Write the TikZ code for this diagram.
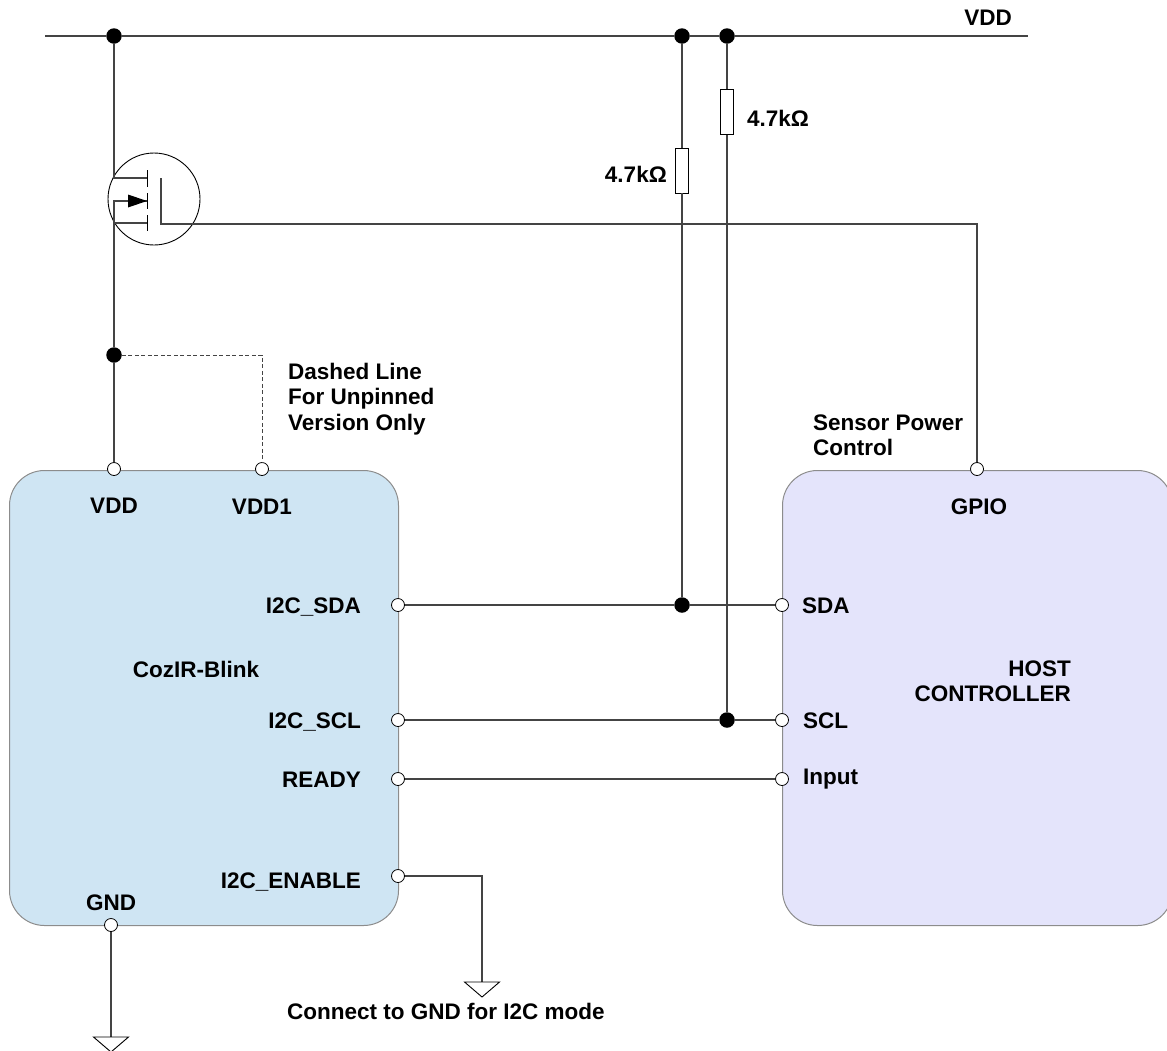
\documentclass[tikz,border=0pt]{standalone}
\usepackage{fontspec}
\setmainfont{Liberation Sans}
\definecolor{blinkblue}{HTML}{CFE5F3}
\definecolor{hostblue}{HTML}{E4E4FB}
\definecolor{boxedge}{HTML}{8C8C8C}
\definecolor{wire}{HTML}{444444}
\tikzset{
  chip/.style={draw=boxedge,line width=1pt,rounded corners=35pt,inner sep=0pt,anchor=north west},
  pinO/.style={circle,draw=black,fill=white,line width=0.8pt,inner sep=0pt,minimum size=13pt},
  jdot/.style={circle,fill=black,draw=none,inner sep=0pt,minimum size=15.5pt},
  resbox/.style={rectangle,draw=black,fill=white,line width=0.9pt,inner sep=0pt,minimum width=13pt,minimum height=45pt},
  lbl/.style={inner sep=0pt,font=\fontsize{22.5pt}{25.3pt}\selectfont\bfseries,align=left},
  wireline/.style={draw=wire,line width=1.2pt},
  thin part/.style={draw=black,line width=0.9pt},
}
\begin{document}
\begin{tikzpicture}[x=1pt,y=-1pt]
\useasboundingbox (0,0) rectangle (1167,1050);
% chips
\node[chip,fill=blinkblue,minimum width=389pt,minimum height=455pt] (blink) at (9,470) {};
\node[chip,fill=hostblue,minimum width=390pt,minimum height=455pt] (host) at (782,470) {};
% pins
\node[pinO] (pVDD) at (114,469) {};
\node[pinO] (pVDDa) at (262,469) {};
\node[pinO] (pSDA) at (398,605) {};
\node[pinO] (pSCL) at (398,720) {};
\node[pinO] (pRDY) at (398,779) {};
\node[pinO] (pEN) at (398,876) {};
\node[pinO] (pGND) at (111,925) {};
\node[pinO] (hGPIO) at (977,469) {};
\node[pinO] (hSDA) at (782,605) {};
\node[pinO] (hSCL) at (782,720) {};
\node[pinO] (hIN) at (782,779) {};
% junctions
\node[jdot] (j1) at (114,36) {};
\node[jdot] (j2) at (682,36) {};
\node[jdot] (j3) at (727,36) {};
\node[jdot] (j4) at (114,355) {};
\node[jdot] (j5) at (682,605) {};
\node[jdot] (j6) at (727,720) {};
\coordinate (railL) at (45,36);
\coordinate (railR) at (1028,36);
% resistors
\node[resbox] (r1) at (682,170.5) {};
\node[resbox] (r2) at (727,112) {};
% rail and wires
\draw[wireline] (railL) -- (j1) -- (j2) -- (j3) -- (railR);
\draw[wireline] (j2) -- (r1) -- (j5);
\draw[wireline] (j3) -- (r2) -- (j6);
\draw[wireline] (pSDA) -- (j5) -- (hSDA);
\draw[wireline] (pSCL) -- (j6) -- (hSCL);
\draw[wireline] (pRDY) -- (hIN);
% MOSFET
\node[circle,draw=black,line width=0.9pt,inner sep=0pt,minimum size=92pt] (mos) at (154,199) {};
\coordinate (dTop) at (114,178);
\coordinate (sMid) at (114,201);
\coordinate (sBot) at (114,223);
\coordinate (gT) at (161,178);
\coordinate (gB) at (161,224);
\coordinate (gR) at (977,224);
\coordinate (bT) at (147,178);
\coordinate (bM) at (147,201);
\coordinate (bB) at (147,223);
\coordinate (arrowBase) at (128,201);
\draw[wireline] (j1) -- (dTop) -- (bT);
\draw[wireline] (bM) -- (sMid) -- (sBot) -- (bB);
\draw[wireline] (sBot) -- (j4) -- (pVDD);
\draw[thin part] (147,170) -- (147,187) (147,193) -- (147,209) (147,215) -- (147,231);
\fill[black] (arrowBase) ++(0,-6.5) -- (bM) -- ++(-19,6.5) -- cycle;
\draw[wireline] (gT) -- (gB) -- (gR) -- (hGPIO);
% dashed
\coordinate (dashC) at (262,355);
\draw[wireline,line width=1pt,dash pattern=on 4pt off 2.5pt] (j4) -- (dashC) -- (pVDDa);
% grounds
\coordinate (gndA) at (111,1037);
\coordinate (gndB) at (482,982);
\coordinate (enC) at (482,876);
\draw[wireline] (pGND) -- (gndA);
\draw[wireline] (pEN) -- (enC) -- (gndB);
\draw[thin part] (gndA) ++(-17.5,0) -- ++(35,0) -- ++(-17.5,15) -- cycle;
\draw[thin part] (gndB) ++(-17.5,0) -- ++(35,0) -- ++(-17.5,15) -- cycle;
% labels
\node[lbl,anchor=east] (tRail) at (1012,18) {VDD};
\node[lbl,anchor=west] (tR2) at (747,118) {4.7kΩ};
\node[lbl,anchor=east] (tR1) at (667,174) {4.7kΩ};
\node[lbl,anchor=west] (tDash) at (288,399) {Dashed Line\\For Unpinned\\Version Only};
\node[lbl,anchor=west] (tSens) at (813,435) {Sensor Power\\Control};
\node[lbl] (tVDD) at (114,506) {VDD};
\node[lbl] (tVDDa) at (262,507) {VDD1};
\node[lbl] (tGND) at (111,903) {GND};
\node[lbl] (tBlink) at (196,669) {CozIR-Blink};
\node[lbl,anchor=east] (tSDA) at (361,607.5) {I2C\_SDA};
\node[lbl,anchor=east] (tSCL) at (361,722.5) {I2C\_SCL};
\node[lbl,anchor=east] (tRDY) at (361,780) {READY};
\node[lbl,anchor=east] (tEN) at (361,882) {I2C\_ENABLE};
\node[lbl] (tGPIO) at (979,507) {GPIO};
\node[lbl,anchor=west] (thSDA) at (802,606) {SDA};
\node[lbl,anchor=west] (thSCL) at (803,721) {SCL};
\node[lbl,anchor=west] (thIN) at (803,779) {Input};
\node[lbl,anchor=east,align=right] (tHost) at (1071,681) {HOST\\CONTROLLER};
\node[lbl,anchor=west] (tConn) at (287,1011) {Connect to GND for I2C mode};
\end{tikzpicture}
\end{document}
